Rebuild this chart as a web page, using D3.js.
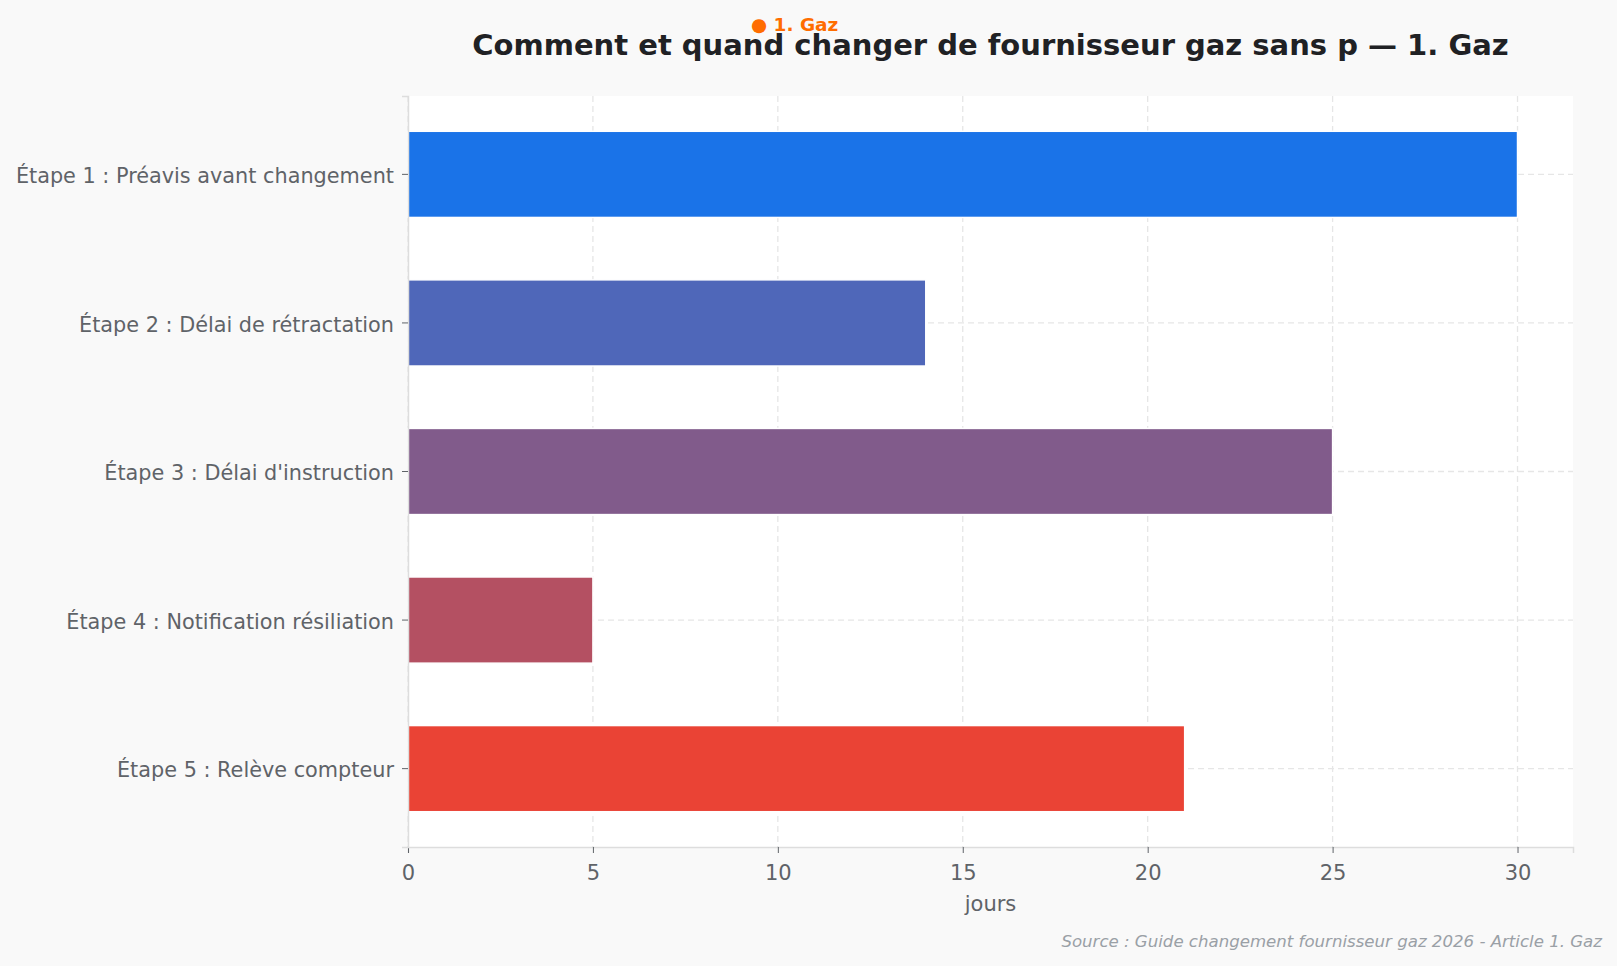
<meta charset="utf-8">
<script src="https://d3js.org/d3.v7.js"></script>
<style>
body { margin: 0; background-color: #f9f9f9; }
svg { font-family: 'DejaVu Sans'; display: block; }
</style>
<div id="chart"></div>
<script>
// data
var etapes = [
    "Étape 1 : Préavis avant changement",
    "Étape 2 : Délai de rétractation",
    "Étape 3 : Délai d'instruction",
    "Étape 4 : Notification résiliation",
    "Étape 5 : Relève compteur"
];
var jours = [30, 14, 25, 5, 21];
var couleurs = ["#1a73e8", "#4f67b9", "#815b8b", "#b45062", "#ea4335"];
var xTicks = [0, 5, 10, 15, 20, 25, 30];

var W = 1617, H = 966;
var margin = {top: 96, right: 44, bottom: 119, left: 408};
var width = W - margin.left - margin.right,
    height = H - margin.top - margin.bottom;

var svg = d3.select("#chart")
    .append("svg")
        .attr("width", W)
        .attr("height", H)
        .style("background-color", "#f9f9f9");

var g = svg.append("g")
    .attr("transform", "translate(" + margin.left + "," + margin.top + ")");

g.append("rect")
    .attr("width", width)
    .attr("height", height)
    .style("fill", "white");

var x = d3.scaleLinear()
    .domain([0, 31.5])
    .range([0, width]);

var y = d3.scaleBand()
    .domain(etapes)
    .range([0, height])
    .paddingInner(0.42)
    .paddingOuter(0.2375);

// grid
g.append("g")
    .selectAll("line")
    .data(xTicks)
    .enter()
    .append("line")
    .attr("x1", d => x(d)).attr("x2", d => x(d))
    .attr("y1", 0).attr("y2", height)
    .style("stroke", "#e6e6e6")
    .style("stroke-width", 1.3)
    .style("stroke-dasharray", "6,4");

g.append("g")
    .selectAll("line")
    .data(etapes)
    .enter()
    .append("line")
    .attr("x1", 0).attr("x2", width)
    .attr("y1", d => y(d) + y.bandwidth() / 2)
    .attr("y2", d => y(d) + y.bandwidth() / 2)
    .style("stroke", "#e6e6e6")
    .style("stroke-width", 1.3)
    .style("stroke-dasharray", "6,4");

// bars
g.append("g")
    .selectAll("rect")
    .data(etapes)
    .enter()
    .append("rect")
    .attr("x", x(0))
    .attr("y", d => y(d))
    .attr("width", (d, i) => x(jours[i]) - x(0))
    .attr("height", y.bandwidth())
    .style("fill", (d, i) => couleurs[i])
    .style("stroke", "white")
    .style("stroke-width", 1.5);

// axes
var xAxis = g.append("g")
    .attr("transform", "translate(0," + height + ")")
    .call(d3.axisBottom(x).tickValues(xTicks).tickSize(6).tickPadding(7));

var yAxis = g.append("g")
    .call(d3.axisLeft(y).tickSize(6).tickPadding(8));

[xAxis, yAxis].forEach(function(a) {
    a.select(".domain").style("stroke", "#dddddd").style("stroke-width", 1.5);
    a.selectAll(".tick line").style("stroke", "#5f6368");
    a.selectAll(".tick text")
        .style("fill", "#5f6368")
        .style("font-family", "DejaVu Sans");
});
xAxis.selectAll(".tick text").attr("dy", "0.95em").style("font-size", "21px");
yAxis.selectAll(".tick text").attr("dy", "0.42em").style("font-size", "20.8px");

g.append("text")
    .attr("x", width / 2)
    .attr("y", height + 64)
    .attr("text-anchor", "middle")
    .style("fill", "#5f6368")
    .style("font-size", "21px")
    .text("jours");

// title
svg.append("text")
    .attr("x", margin.left + width / 2)
    .attr("y", 55)
    .attr("text-anchor", "middle")
    .style("fill", "#202124")
    .style("font-size", "29px")
    .style("font-weight", "bold")
    .text("Comment et quand changer de fournisseur gaz sans p — 1. Gaz");

svg.append("text")
    .attr("x", 751)
    .attr("y", 31)
    .style("fill", "#ff6d00")
    .style("font-size", "18.5px")
    .style("font-weight", "bold")
    .text("● 1. Gaz");

svg.append("text")
    .attr("x", 1602)
    .attr("y", 947)
    .attr("text-anchor", "end")
    .style("fill", "#9aa0a6")
    .style("font-size", "16.6px")
    .style("font-style", "italic")
    .text("Source : Guide changement fournisseur gaz 2026 - Article 1. Gaz");
</script>
